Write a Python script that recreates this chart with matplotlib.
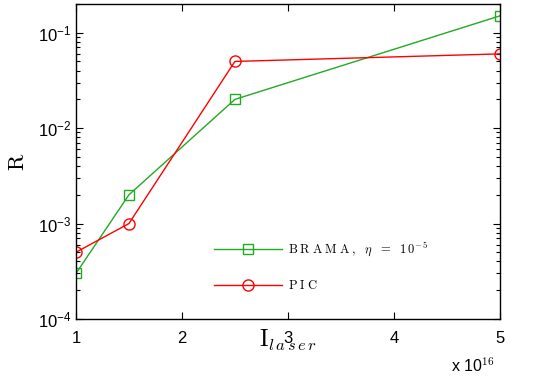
import matplotlib
matplotlib.use('Agg')
import matplotlib.pyplot as plt
from matplotlib.ticker import LogLocator, FixedLocator

plt.rcParams['font.family'] = ['Liberation Sans', 'DejaVu Sans']
plt.rcParams['mathtext.fontset'] = 'cm'

# intensity in units of 1e16
intensity = [1.0, 1.5, 2.5, 5.0]
brama = [3e-4, 2e-3, 2e-2, 1.5e-1]
pic = [5e-4, 1e-3, 5e-2, 6e-2]

fig = plt.figure(figsize=(5.45, 3.88), dpi=100)
ax = fig.add_axes([0.1394, 0.178, 0.917 - 0.1394, 0.9897 - 0.178])

green = '#22aa22'
ax.plot(intensity, brama, color=green, lw=1.0, marker='s', ms=6.5, mfc='none',
        mec=green, mew=1.0,
        label=r'$\mathrm{B\;R\;A\;M\;A\;,}\ \ \eta\ \ =\ \ 1\,0^{-\,5}$')
ax.plot(intensity, pic, color='red', lw=1.0, marker='o', ms=8, mfc='none',
        mec='red', mew=1.0, label=r'$\mathrm{P\;I\;C}$')

ax.set_yscale('log')
ax.set_xlim(1, 5)
ax.set_ylim(1e-4, 0.2)
ax.xaxis.set_major_locator(FixedLocator([1, 2, 3, 4, 5]))
ax.yaxis.set_major_locator(LogLocator(base=10, numticks=10))
ax.yaxis.set_minor_locator(LogLocator(base=10, subs=range(2, 10), numticks=10))

ax.tick_params(which='both', direction='in', top=True, right=True, labelsize=12)
ax.tick_params(which='major', length=5, width=0.8)
ax.tick_params(which='minor', length=3, width=0.8)
ax.tick_params(axis='x', which='minor', top=False, bottom=False)
ax.tick_params(axis='x', pad=9)
for s in ax.spines.values():
    s.set_linewidth(1.0)

ax.set_ylabel(r'$\mathrm{R}$', fontsize=16, labelpad=6)
ax.set_xlabel(r'$\mathrm{I}_{l\,a\,s\,e\,r}$', fontsize=17, labelpad=-13)

ax.text(0.885, -0.12, r'x 10$^{16}$', transform=ax.transAxes, fontsize=11.5,
        ha='left', va='top')

ax.legend(loc='lower left', bbox_to_anchor=(0.3, 0.05), frameon=False,
          fontsize=9, handlelength=5.4, labelspacing=1.6, handletextpad=0.5)

fig.savefig('out.png', dpi=100)
